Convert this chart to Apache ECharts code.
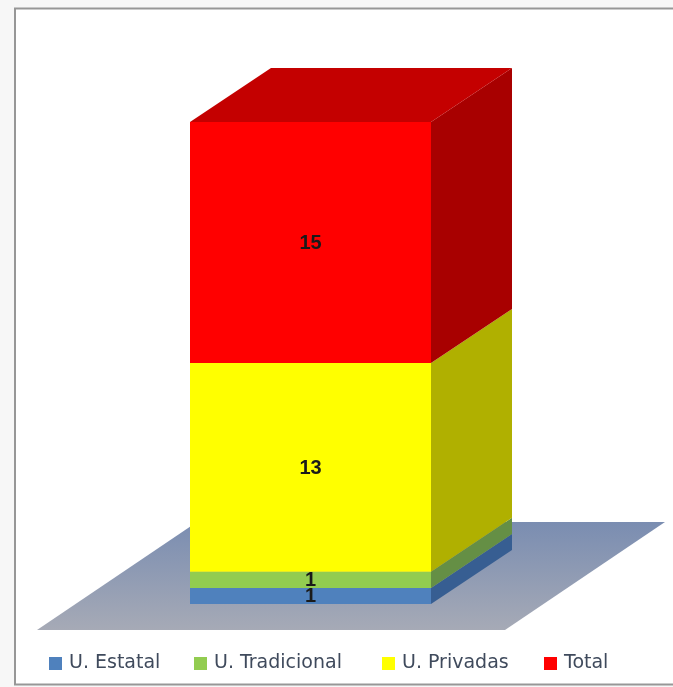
<!DOCTYPE html>
<html><head><meta charset="utf-8">
<style>html,body{margin:0;padding:0;background:#fff}#c{width:673px;height:687px}</style>
<script src="https://cdn.jsdelivr.net/npm/echarts@6/dist/echarts.min.js"></script>
</head><body><div id="c"></div>
<script>
const categories = ['Universidades'];
const seriesNames = ['U. Estatal', 'U. Tradicional', 'U. Privadas', 'Total'];
const estatal = [1];
const tradicional = [1];
const privadas = [13];
const total = [15];
const seriesValues = [estatal, tradicional, privadas, total];
const frontColors = ['#4f81bd', '#92cc50', '#ffff00', '#ff0000'];
const sideColors = ['#375e92', '#658f45', '#b0b000', '#a80000'];
const topColors = ['#4f81bd', '#92cc50', '#cccc00', '#c40000'];
const legendLefts = [49, 194, 382, 544];

const DX = 81, DY = -54;
const chart = echarts.init(document.getElementById('c'), null, {renderer: 'canvas'});

function poly(points, fill, z2) {
  return {type: 'polygon', shape: {points}, z2: z2 || 0, style: {fill}, silent: true};
}

const floorSeries = {
  type: 'custom', name: 'floor', z: 1, silent: true, legendHoverLink: false,
  data: [[0, 0]],
  renderItem(params, api) {
    const c = api.coord([api.value(0), 0]);
    const w = api.size([1, 0])[0];
    const l = c[0] - w / 2, r = c[0] + w / 2, y = c[1];
    return poly([[l - 153, y + 26], [r + 74, y + 26], [r + 234, y - 82], [l + 7, y - 82]],
      new echarts.graphic.LinearGradient(0, 0, 0, 1, [
        {offset: 0, color: '#7a8db1'}, {offset: 1, color: '#a6aab6'}]));
  }
};

let base = 0;
const barSeries = seriesNames.map((name, i) => {
  const start = base;
  const v = seriesValues[i][0];
  base += v;
  const isTop = i === seriesNames.length - 1;
  return {
    type: 'custom', name, z: 2 + i, silent: true,
    itemStyle: {color: frontColors[i]},
    data: [[0, start, start + v, v]],
    encode: {x: 0, y: [1, 2]},
    renderItem(params, api) {
      const b = api.coord([api.value(0), api.value(1)]);
      const t = api.coord([api.value(0), api.value(2)]);
      const w = api.size([1, 0])[0];
      const l = b[0] - w / 2, r = b[0] + w / 2;
      const children = [
        poly([[r, b[1]], [r + DX, b[1] + DY], [r + DX, t[1] + DY], [r, t[1]]], sideColors[i]),
        poly([[l, b[1]], [r, b[1]], [r, t[1]], [l, t[1]]], frontColors[i])
      ];
      if (isTop) children.push(poly([[l, t[1]], [r, t[1]], [r + DX, t[1] + DY], [l + DX, t[1] + DY]], topColors[i]));
      children.push({
        type: 'text', z2: 10, silent: true,
        style: {
          x: b[0], y: (b[1] + t[1]) / 2 + 1, text: String(api.value(3)),
          fill: '#1a1a1a', font: 'bold 20px "Liberation Sans", Arial, sans-serif',
          align: 'center', verticalAlign: 'middle'
        }
      });
      return {type: 'group', children};
    }
  };
});

chart.setOption({
  animation: false,
  backgroundColor: '#f7f7f7',
  grid: {left: 190, top: 122, width: 241, height: 482},
  xAxis: {type: 'category', data: categories, show: false},
  yAxis: {type: 'value', min: 0, max: 30, show: false},
  graphic: [{
    type: 'rect', z: -1, silent: true,
    shape: {x: 15, y: 8.5, width: 680, height: 676},
    style: {fill: '#fff', stroke: '#979797', lineWidth: 2}
  }],
  legend: seriesNames.map((name, i) => ({
    left: legendLefts[i], top: 654, padding: 0, data: [name], icon: 'rect',
    itemWidth: 13, itemHeight: 13,
    textStyle: {color: '#3f4a5c', fontSize: 19, fontFamily: '"DejaVu Sans", sans-serif', padding: [0, 0, 0, 2]}
  })),
  series: [floorSeries, ...barSeries]
});
</script></body></html>
